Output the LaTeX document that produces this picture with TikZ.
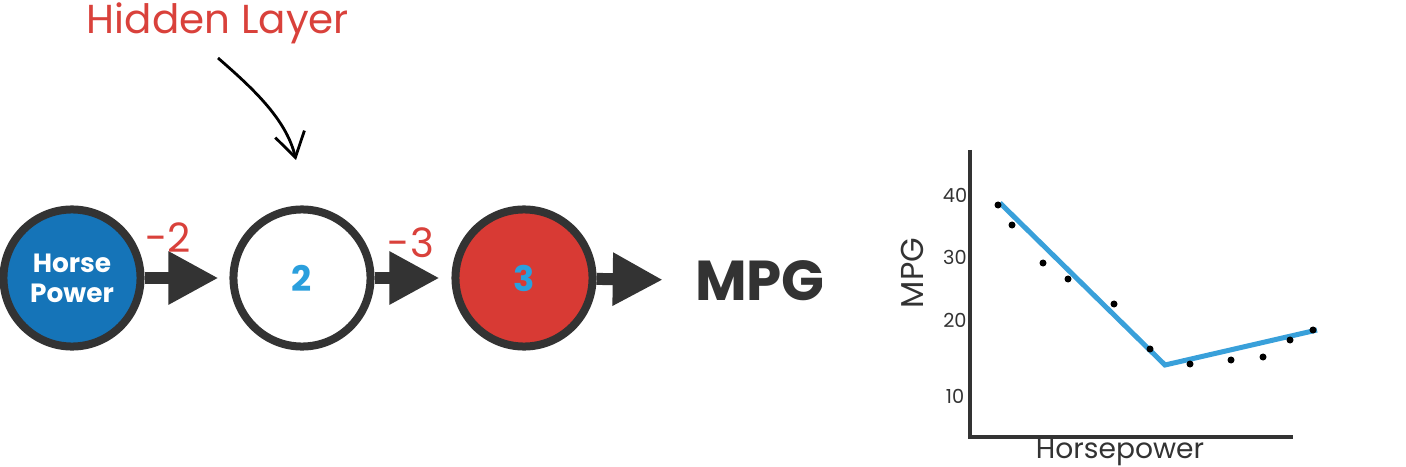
\documentclass[tikz,border=0pt]{standalone}
\usepackage{fontspec}
\setmainfont{Poppins}
\usetikzlibrary{arrows.meta}
\definecolor{ringgray}{HTML}{333333}
\definecolor{hpblue}{HTML}{1574B8}
\definecolor{outred}{HTML}{D83A34}
\definecolor{numblue}{HTML}{2A9FDD}
\definecolor{wred}{HTML}{D9413B}
\definecolor{fitblue}{HTML}{39A0DA}
\begin{document}
\begin{tikzpicture}[x=0.01cm,y=-0.01cm]
        \tikzstyle{neuron}=[circle,draw=ringgray,line width=0.08cm,minimum size=1.37cm,inner sep=0pt]
        \tikzstyle{link}=[draw=ringgray,line width=0.12cm,-{Triangle[length=0.5cm,width=0.5cm]}]
        \tikzstyle{weight}=[text=wred,font=\fontsize{11.5}{12}\selectfont]
        \tikzstyle{tick}=[text=ringgray,font=\fontsize{5.5}{6}\selectfont]
        \useasboundingbox (0,0) rectangle (1406,467);
        \node [text=wred,font=\fontsize{11.5}{12}\selectfont] (hidden) at (218,23) {Hidden Layer};
        \node [neuron,fill=hpblue,text=white,align=center,font=\bfseries\fontsize{7.5}{8.5}\selectfont] (hp) at (72,278) {Horse\\Power};
        \node [neuron,fill=white,text=numblue,font=\bfseries\fontsize{10}{11}\selectfont] (h) at (302,278) {2};
        \node [neuron,fill=outred,text=numblue,font=\bfseries\fontsize{10}{11}\selectfont] (o) at (524,278) {3};
        \node [text=ringgray,font=\bfseries\fontsize{16}{17}\selectfont] (mpg) at (760,281) {MPG};
        \coordinate (hstart) at (218,58);
        \coordinate (hend) at (296,160);
        \draw [black,line width=0.028cm,-{Straight Barb[length=0.24cm,width=0.3cm]}] (hstart) .. controls (250,86) and (286,118) .. (hend);
        \draw [link,shorten >=0.11cm] (hp) -- (h);
        \draw [link,shorten >=0.12cm] (h) -- (o);
        \draw [link,shorten >=0.2cm] (o) -- (mpg);
        \node [weight] (w1) at (168,238) {-2};
        \node [weight] (w2) at (411,243) {-3};
        \coordinate (ytop) at (970,150);
        \coordinate (origin) at (970,437);
        \coordinate (xend) at (1293,437);
        \draw [ringgray,line width=0.045cm] (ytop) -- (origin) -- (xend);
        \node [tick] (t40) at (955,195) {40};
        \node [tick] (t30) at (955,257) {30};
        \node [tick] (t20) at (955,320) {20};
        \node [tick] (t10) at (955,396) {10};
        \node [rotate=90,text=ringgray,font=\fontsize{9}{10}\selectfont] (ylab) at (912,273) {MPG};
        \node [text=ringgray,font=\fontsize{8}{9}\selectfont] (xlab) at (1120,452) {Horsepower};
        \draw [fitblue,line width=0.05cm] (1000,203) -- (1165,365) -- (1317,330);
        \foreach \p in {(998,205),(1012,225),(1043,263),(1068,279),(1114,304),(1150,349),(1190,364),(1231,360),(1263,357),(1290,340),(1313,330)}
            \fill [black] \p circle (0.035cm);
\end{tikzpicture}
\end{document}
